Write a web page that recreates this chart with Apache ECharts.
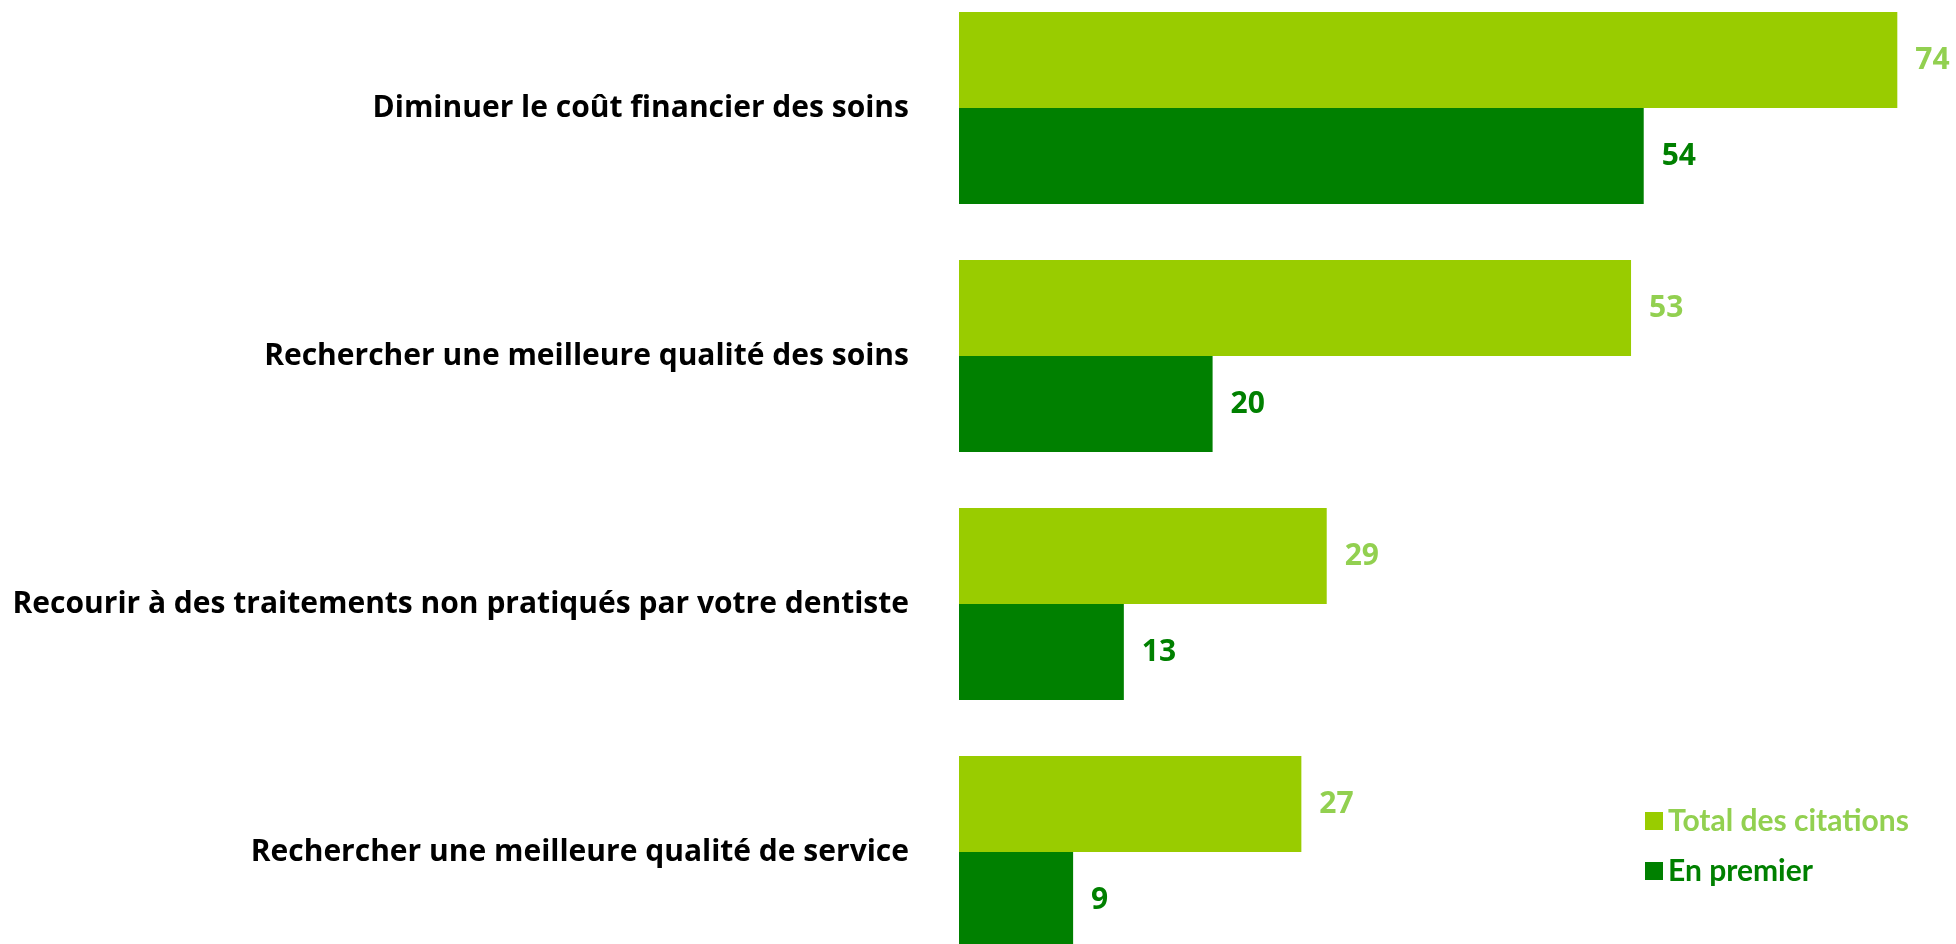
<!DOCTYPE html>
<html>
<head>
<meta charset="utf-8">
<script src="https://cdn.jsdelivr.net/npm/echarts@6/dist/echarts.min.js"></script>
<style>html,body{margin:0;padding:0;background:#fff;}#c{width:1956px;height:944px;}</style>
</head>
<body>
<div id="c"></div>
<script>
const categories = [
  "Diminuer le coût financier des soins",
  "Rechercher une meilleure qualité des soins",
  "Recourir à des traitements non pratiqués par votre dentiste",
  "Rechercher une meilleure qualité de service"
];
const seriesNames = ["Total des citations", "En premier"];
const totalCitations = [74, 53, 29, 27];
const enPremier = [54, 20, 13, 9];

const chart = echarts.init(document.getElementById('c'));
const font = "'Open Sans', sans-serif";
chart.setOption({
  animation: false,
  grid: { left: 959, right: 46, top: -16, height: 992, containLabel: false, outerBoundsMode: 'none' },
  xAxis: { type: 'value', min: 0, max: 75, show: false },
  yAxis: {
    type: 'category', inverse: true, data: categories,
    axisLine: { show: false }, axisTick: { show: false },
    axisLabel: { margin: 50, fontSize: 30, fontWeight: 'bold', color: '#000', fontFamily: font }
  },
  legend: {
    orient: 'vertical', left: 1640, top: 801, itemWidth: 18, itemHeight: 18, itemGap: 20,
    icon: 'rect',
    textStyle: { fontSize: 30, fontWeight: 'bold', fontFamily: "Lato, sans-serif" },
    data: [
      { name: seriesNames[0], textStyle: { color: '#92D050' } },
      { name: seriesNames[1], textStyle: { color: '#008000' } }
    ]
  },
  series: [
    {
      name: seriesNames[0], type: 'bar', data: totalCitations, barGap: 0, barCategoryGap: '22.6%',
      itemStyle: { color: '#99CC00' },
      label: { show: true, position: 'right', distance: 18, fontSize: 30, fontWeight: 'bold', color: '#92D050', fontFamily: font }
    },
    {
      name: seriesNames[1], type: 'bar', data: enPremier, barGap: 0, barCategoryGap: '22.6%',
      itemStyle: { color: '#008000' },
      label: { show: true, position: 'right', distance: 18, fontSize: 30, fontWeight: 'bold', color: '#008000', fontFamily: font }
    }
  ]
});
</script>
</body>
</html>
